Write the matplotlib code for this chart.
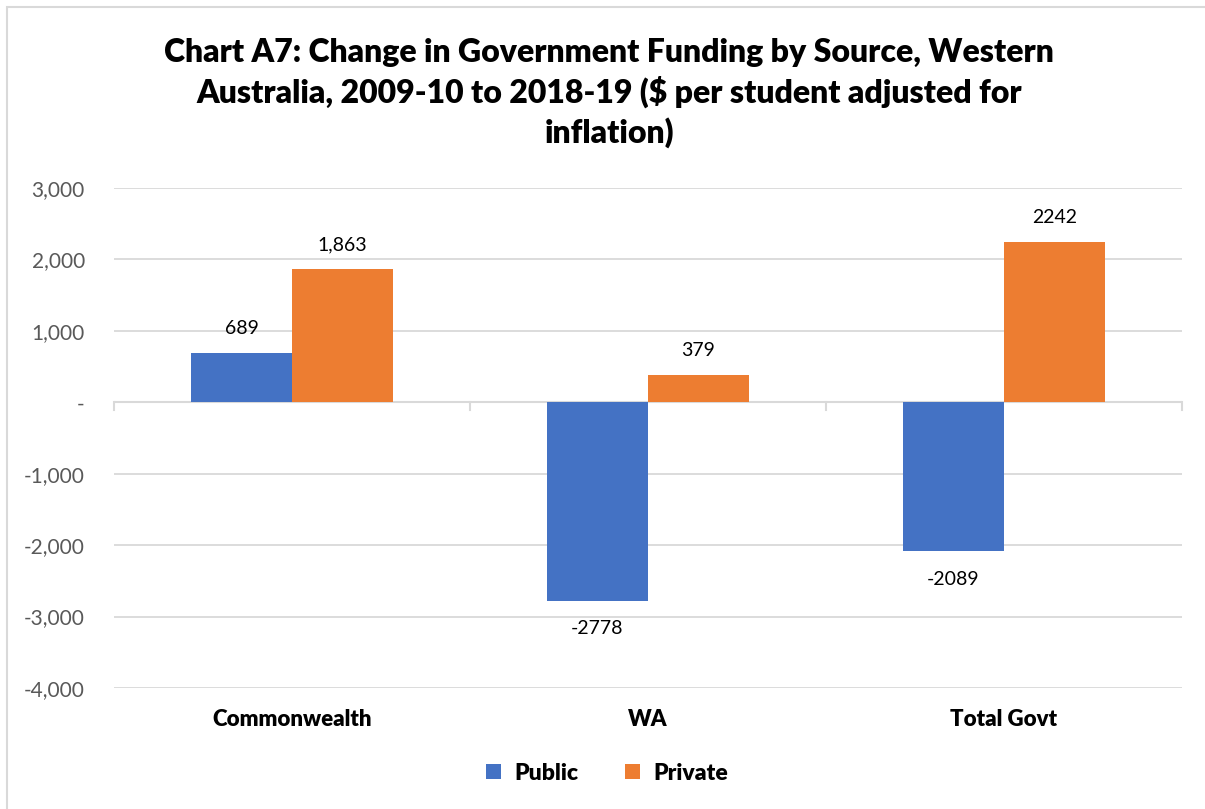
import matplotlib
matplotlib.use("Agg")
import matplotlib.pyplot as plt
import numpy as np
from matplotlib.patches import Rectangle

categories = ["Commonwealth", "WA", "Total Govt"]
public = [689, -2778, -2089]
private = [1863, 379, 2242]
public_labels = ["689", "-2778", "-2089"]
private_labels = ["1,863", "379", "2242"]
yticks = [3000, 2000, 1000, 0, -1000, -2000, -3000, -4000]
ytick_labels = ["3,000", "2,000", "1,000", "-", "-1,000", "-2,000", "-3,000", "-4,000"]
title = "Chart A7: Change in Government Funding by Source, Western\nAustralia, 2009-10 to 2018-19 ($ per student adjusted for\ninflation)"

plt.rcParams['font.family'] = ['Lato', 'DejaVu Sans']

W, H = 1205, 809
fig = plt.figure(figsize=(W/100, H/100), dpi=100)
fig.patches.append(Rectangle((7/W, -0.01), 1.2, 1 - 7/H + 0.01, transform=fig.transFigure,
                             fill=False, edgecolor="#D9D9D9", linewidth=1.5))

ax = fig.add_axes([114/W, 1 - 688/H, (1182 - 114)/W, (688 - 188)/H])
x = np.arange(len(categories))
bw = 0.284
blue = "#4472C4"
orange = "#ED7D31"
b1 = ax.bar(x - bw/2, public, bw, color=blue, label="Public", zorder=3)
b2 = ax.bar(x + bw/2, private, bw, color=orange, label="Private", zorder=3)

ax.set_xlim(-0.5, 2.5)
ax.set_ylim(-4000, 3000)
ax.set_yticks(yticks)
ax.set_yticklabels(ytick_labels)
ax.yaxis.grid(True, color="#D9D9D9", linewidth=1.3, zorder=0)
ax.tick_params(axis='y', length=0, labelsize=15, labelcolor="#595959", pad=21)
for s in ax.spines.values():
    s.set_visible(False)
ax.axhline(0, color="#D9D9D9", linewidth=1.5, zorder=2)

# category boundary ticks at zero line
for xb in [-0.5, 0.5, 1.5, 2.5]:
    ax.plot([xb, xb], [0, -110], color="#D9D9D9", linewidth=1.5, zorder=2, clip_on=False)

ax.set_xticks([])
for i, c in enumerate(categories):
    ax.text(i, -4000 - 30 / 500 * 7000 * 1.05, c, ha="center", va="center",
            fontsize=16, fontweight="heavy", color="black")

def lab(val, s, xpos):
    if val >= 0:
        ax.text(xpos, val + 340, s, ha="center", va="center", fontsize=14, color="black")
    else:
        ax.text(xpos, val - 390, s, ha="center", va="center", fontsize=14, color="black")

for i in range(len(categories)):
    lab(public[i], public_labels[i], x[i] - bw/2)
    lab(private[i], private_labels[i], x[i] + bw/2)

fig.text(609/W, 1 - 93/H, title, ha="center", va="center", fontsize=23,
         fontweight="heavy", linespacing=1.33)

leg = fig.legend(handles=[b1, b2], loc="center", bbox_to_anchor=(607/W, 1 - 773/H),
                 ncol=2, frameon=False, prop={'size': 16.5, 'weight': 'heavy'},
                 handlelength=0.65, handleheight=0.65, columnspacing=2.0, handletextpad=0.6)

fig.savefig("out.png", dpi=100)
